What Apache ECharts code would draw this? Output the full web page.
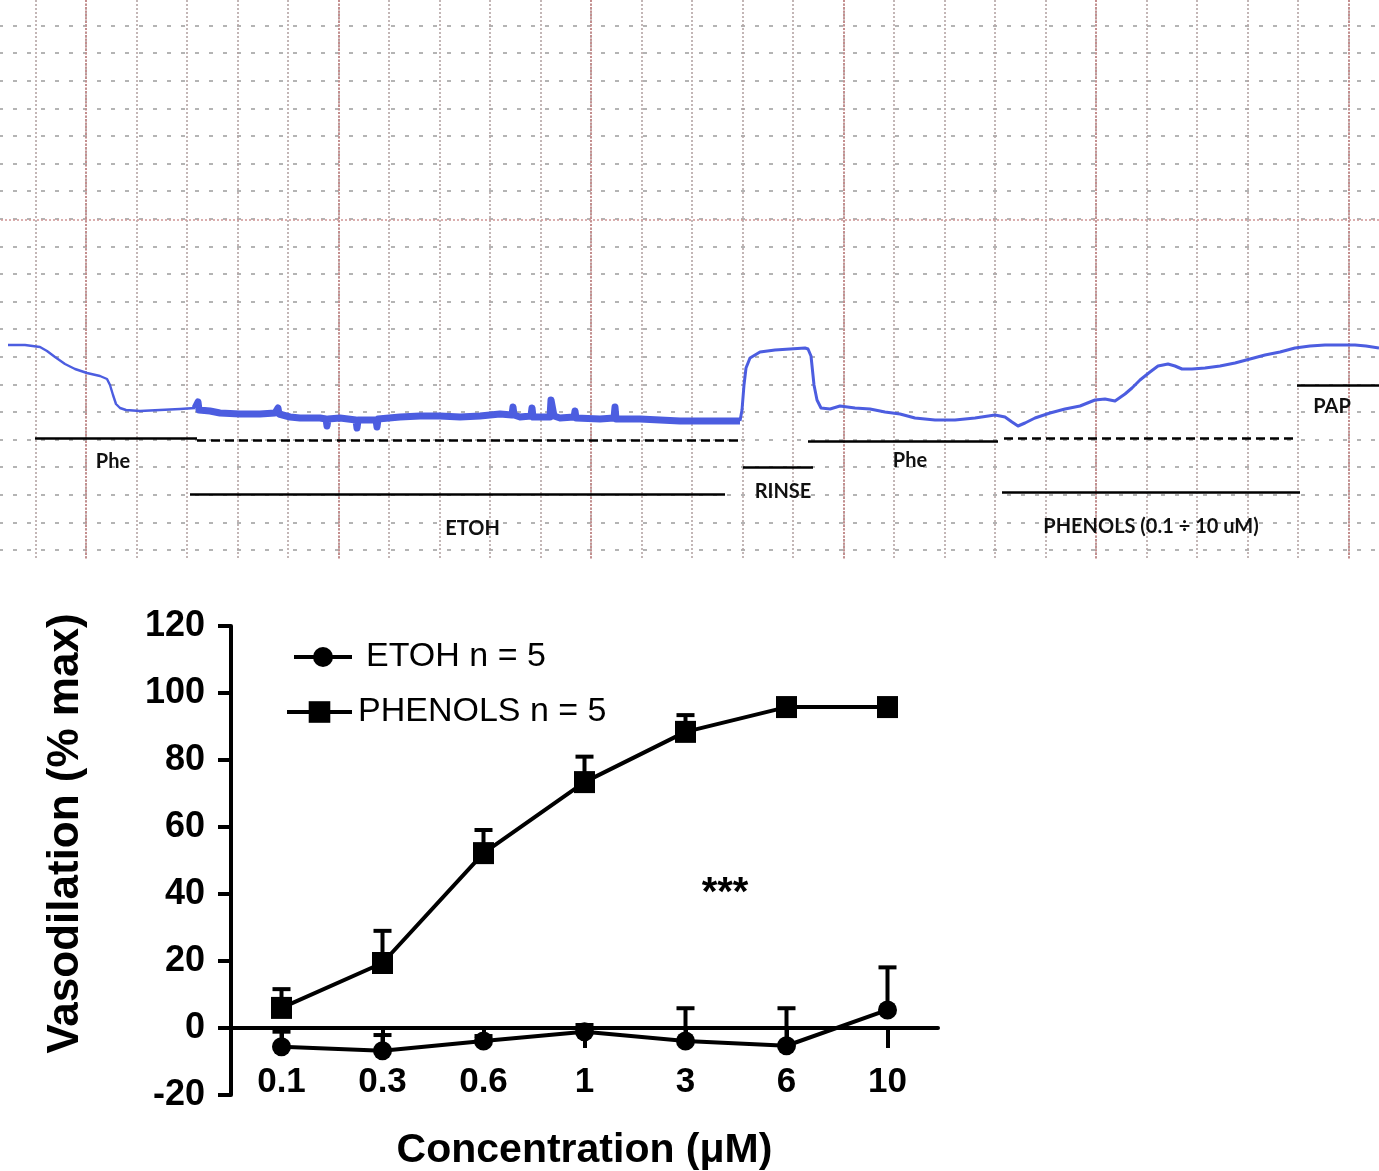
<!DOCTYPE html>
<html><head><meta charset="utf-8">
<script src="https://cdn.jsdelivr.net/npm/echarts@6/dist/echarts.min.js"></script>
<style>html,body{margin:0;padding:0;background:#fff}#c{width:1379px;height:1171px}</style>
</head><body><div id="c"></div><script>
// ---------- Recording trace (chart-paper units: time, tension) ----------
const phase1T = [23,40,55,62,70,80,90,102,115,122,125,128,131,135,141,155,175,195,210];
const phase1V = [205,205,203,199,193,186,181,177,174,171,165,155,146,142,140,139,140,141,142];
const phase2T = [210,212,213,214,225,235,255,275,290,292,293,294,305,315,335,341,342,343,355,371,372,373,391,392,393,415,435,455,475,495,515,527,528,529,535,546,547,548,565,566,567,568,569,575,589,590,591,615,629,630,631,655,675,695,715,735,755];
const phase2V = [142,141,148,140,139,137,136,136,137,137,142,136,133,132,132,131,124,131,132,130,122,130,130,123,131,133,134,134,133,134,136,135,143,135,133,134,142,133,133,150,150,150,134,132,133,139,132,131,132,143,131,131,130,129,129,129,129];
const phase3T = [755,757,759,761,765,775,790,805,820,823,826,829,832,836,845,855,870,885,900,915,930,950,970,990,1010,1020,1027,1033,1040,1050,1065,1080,1095,1110,1120,1130,1140,1147,1155,1165,1173,1183,1190,1197,1207,1220,1235,1250,1265,1280,1295,1310,1325,1340,1355,1370,1381,1394];
const phase3V = [129,140,165,182,192,198,200,201,202,201,194,165,150,142,141,144,142,141,138,136,132,130,130,132,135,133,128,124,127,132,137,141,144,150,151,149,156,162,170,178,184,186,184,181,181,182,184,187,191,195,198,202,204,205,205,205,204,202];

// treatment bars under the trace
const annoLabel = ['Phe', '', 'ETOH', 'RINSE', 'Phe', '', 'PHENOLS (0.1 \u00f7 10 uM)', 'PAP'];
const annoStart = [50, 212, 205, 758, 823, 1019, 1017, 1312];
const annoEnd   = [212, 757, 740, 828, 1013, 1313, 1315, 1394];
const annoLevel = [112, 110, 56, 83, 109, 112, 58, 165];
const annoDashed = [false, true, false, false, false, true, false, false];

// ---------- Concentration-response ----------
const concentrations = ['0.1', '0.3', '0.6', '1', '3', '6', '10'];
const etohMean = [-5.6, -6.8, -3.9, -1.1, -3.9, -5.3, 5.4];
const etohSem = [4.5, 4.7, 1.5, 2.0, 9.8, 11.2, 12.7];
const phenolsMean = [6.0, 19.4, 52.2, 73.4, 88.4, 95.8, 95.8];
const phenolsSem = [5.6, 9.6, 6.9, 7.6, 5.0, 1.5, 1.5];
const yTicks = [-20, 0, 20, 40, 60, 80, 100, 120];

const FONT = '"Liberation Sans", Arial, sans-serif';
const TOPFONT = 'Lato, "Liberation Sans", sans-serif';
const TRACE = '#4c5de0';

const zip = (a, b) => a.map((v, i) => [v, b[i]]);
const labelDist = [14, 0, 25, 15, 10, 0, 25, 12];
const labelShift = [[-3, 0], [0, 0], [15, 0], [5, 0], [7, 0], [0, 0], [0, 0], [-6, 0]];

const markLines = annoLabel.map((lab, i) => [
  {
    coord: [annoStart[i], annoLevel[i]],
    lineStyle: { color: '#000', width: 2.6, type: annoDashed[i] ? [9, 5] : 'solid' },
    label: {
      show: lab !== '', formatter: lab, position: 'insideMiddleBottom', distance: labelDist[i],
      offset: labelShift[i],
      fontFamily: TOPFONT, fontWeight: 'bold', fontSize: 20, color: '#111'
    }
  },
  { coord: [annoEnd[i], annoLevel[i]] }
]);
markLines.push({ yAxis: 330, lineStyle: { color: '#d39b9b', width: 1.6, type: [2, 2] }, label: { show: false } });

function errorRender(params, api) {
  const p = api.coord([api.value(0), api.value(1)]);
  const t = api.coord([api.value(0), api.value(1) + api.value(2)]);
  const st = { stroke: '#000', lineWidth: 4 };
  return { type: 'group', children: [
    { type: 'line', shape: { x1: p[0], y1: p[1], x2: p[0], y2: t[1] }, style: st },
    { type: 'line', shape: { x1: p[0] - 9, y1: t[1], x2: p[0] + 9, y2: t[1] }, style: st }
  ]};
}

const hidden = { axisLine: { show: false }, axisTick: { show: false }, axisLabel: { show: false } };

const chart = echarts.init(document.getElementById('c'), null, { renderer: 'canvas' });
chart.setOption({
  animation: false,
  backgroundColor: '#fff',
  grid: [
    { left: -15, top: -2, width: 1400, height: 552, containLabel: false, outerBoundsMode: 'none' },
    { left: 231, top: 626, width: 707, height: 469, containLabel: false, outerBoundsMode: 'none' },
    { left: -166.5, top: 0, width: 1552, height: 560, containLabel: false, outerBoundsMode: 'none' }
  ],
  xAxis: [
    Object.assign({ gridIndex: 0, type: 'value', min: 0, max: 1400, splitLine: { show: false } }, hidden),
    Object.assign({ gridIndex: 2, type: 'value', min: 0, max: 1552, interval: 50.5,
      splitLine: { show: true, showMinLine: false, showMaxLine: false,
        lineStyle: { color: '#b5a5a5', width: 1.6, type: [2, 2] } } }, hidden),
    Object.assign({ gridIndex: 2, type: 'value', min: 0, max: 1552, interval: 252.5,
      splitLine: { show: true, showMinLine: false, showMaxLine: false,
        lineStyle: { color: '#c48e8e', width: 2, type: [2, 1.5] } } }, hidden),
    { gridIndex: 1, type: 'category', data: concentrations, boundaryGap: true,
      axisLine: { show: true, onZero: true, lineStyle: { color: '#000', width: 4 } },
      axisTick: { show: true, alignWithLabel: true, length: 20, lineStyle: { color: '#000', width: 4 } },
      axisLabel: { margin: -30, fontFamily: FONT, fontWeight: 'bold', fontSize: 35, color: '#000' },
      splitLine: { show: false },
      name: 'Concentration (\u03bcM)', nameLocation: 'middle', nameGap: 35,
      nameTextStyle: { fontFamily: FONT, fontWeight: 'bold', fontSize: 41, color: '#000' } }
  ],
  yAxis: [
    Object.assign({ gridIndex: 0, type: 'value', min: 0, max: 552, interval: 27.6,
      splitLine: { show: true, showMinLine: true, showMaxLine: false,
        lineStyle: { color: '#9c9c9c', width: 1.6, type: [4, 10] } } }, hidden),
    { gridIndex: 1, type: 'value', min: yTicks[0], max: yTicks[yTicks.length - 1], interval: 20,
      axisLine: { show: true, onZero: false, lineStyle: { color: '#000', width: 4 } },
      axisTick: { show: true, length: 13, lineStyle: { color: '#000', width: 4 } },
      axisLabel: { margin: 26, fontFamily: FONT, fontWeight: 'bold', fontSize: 36, color: '#000' },
      splitLine: { show: false },
      name: 'Vasodilation (% max)', nameLocation: 'middle', nameGap: 143, nameRotate: 90,
      nameTextStyle: { fontFamily: FONT, fontWeight: 'bold', fontSize: 44, color: '#000', padding: [0, 0, 0, 54] } },
    Object.assign({ gridIndex: 2, type: 'value', min: 0, max: 1, splitLine: { show: false } }, hidden)
  ],
  legend: [
    { data: ['ETOH n = 5'], left: 287, top: 635, itemWidth: 58, itemHeight: 25,
      lineStyle: { width: 4 },
      textStyle: { fontFamily: FONT, fontSize: 34, color: '#000', padding: [0, 0, 0, 9] } },
    { data: ['PHENOLS n = 5'], left: 280, top: 690, itemWidth: 65, itemHeight: 27,
      lineStyle: { width: 4 },
      textStyle: { fontFamily: FONT, fontSize: 34, color: '#000', padding: [0, 0, 0, 1] } }
  ],
  graphic: [
    { type: 'text', x: 725, y: 894, style: { text: '***', font: 'bold 40px "Liberation Sans", Arial', fill: '#000', align: 'center', verticalAlign: 'middle' } }
  ],
  series: [
    { type: 'line', name: 'trace1', xAxisIndex: 0, yAxisIndex: 0, data: zip(phase1T, phase1V),
      symbol: 'none', lineStyle: { color: TRACE, width: 2.4, join: 'round' }, z: 3,
      markLine: { silent: true, symbol: ['none', 'none'], data: markLines } },
    { type: 'line', name: 'trace2', xAxisIndex: 0, yAxisIndex: 0, data: zip(phase2T, phase2V),
      symbol: 'none', lineStyle: { color: TRACE, width: 7, join: 'round' }, z: 3 },
    { type: 'line', name: 'trace3', xAxisIndex: 0, yAxisIndex: 0, data: zip(phase3T, phase3V),
      symbol: 'none', lineStyle: { color: TRACE, width: 3, join: 'round' }, z: 3 },
    { type: 'custom', name: 'etohErr', xAxisIndex: 3, yAxisIndex: 1, renderItem: errorRender,
      data: etohMean.map((m, i) => [i, m, etohSem[i]]), z: 1 },
    { type: 'custom', name: 'phenolsErr', xAxisIndex: 3, yAxisIndex: 1, renderItem: errorRender,
      data: phenolsMean.map((m, i) => [i, m, phenolsSem[i]]), z: 1 },
    { type: 'line', name: 'ETOH n = 5', xAxisIndex: 3, yAxisIndex: 1, data: etohMean,
      symbol: 'circle', symbolSize: 19, showAllSymbol: true,
      lineStyle: { color: '#000', width: 4 }, itemStyle: { color: '#000' }, z: 4 },
    { type: 'line', name: 'PHENOLS n = 5', xAxisIndex: 3, yAxisIndex: 1, data: phenolsMean,
      symbol: 'rect', symbolSize: [21, 22], showAllSymbol: true,
      lineStyle: { color: '#000', width: 4 }, itemStyle: { color: '#000' }, z: 4 }
  ]
});
</script></body></html>
